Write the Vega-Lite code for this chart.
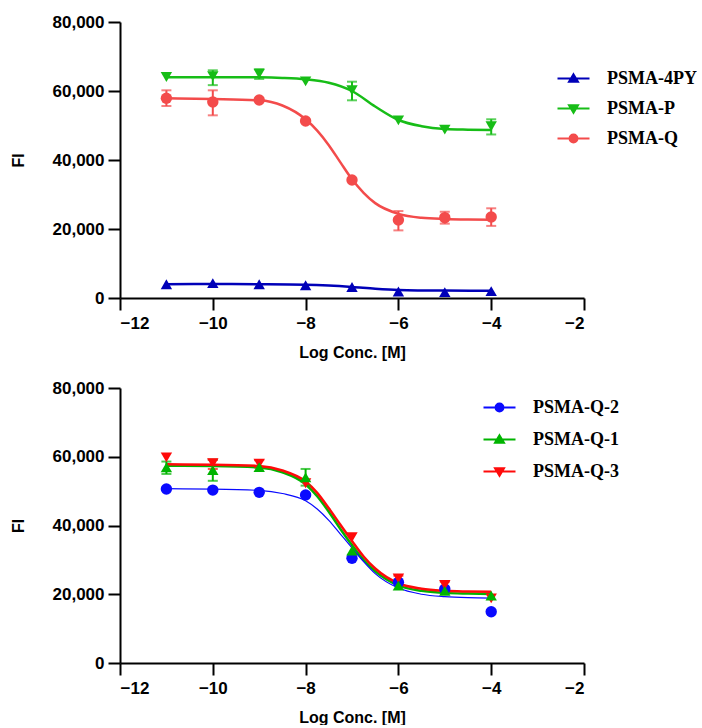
{
  "$schema": "https://vega.github.io/schema/vega-lite/v6.json",
  "padding": {"left": 10, "top": 13, "right": 0, "bottom": 0},
  "spacing": 19,
  "config": {
    "view": {"stroke": null},
    "axis": {
      "grid": false,
      "domainColor": "black", "domainWidth": 2,
      "tickColor": "black", "tickWidth": 2, "tickSize": 12,
      "labelFont": "Liberation Sans", "labelFontWeight": "bold", "labelFontSize": 17, "labelColor": "black",
      "titleFont": "Liberation Sans", "titleFontWeight": "bold", "titleFontSize": 16, "titleColor": "black"
    },
    "axisX": {"labelPadding": 5, "titlePadding": 13},
    "axisY": {"labelPadding": 4, "titlePadding": 26},
    "legend": {
      "labelFont": "Liberation Serif", "labelFontSize": 18, "labelFontWeight": "bold", "labelColor": "black",
      "symbolSize": 1024, "symbolStrokeWidth": 2.2, "symbolOpacity": 1, "padding": 0, "labelOffset": 16
    }
  },
  "datasets": {
    "top_curve": [
      {"series": "PSMA-4PY", "x": -11, "y": 4000}, {"series": "PSMA-4PY", "x": -10, "y": 4050}, {"series": "PSMA-4PY", "x": -9, "y": 4000},
      {"series": "PSMA-4PY", "x": -8, "y": 3850}, {"series": "PSMA-4PY", "x": -7.5, "y": 3600}, {"series": "PSMA-4PY", "x": -7, "y": 3200},
      {"series": "PSMA-4PY", "x": -6.5, "y": 2700}, {"series": "PSMA-4PY", "x": -6, "y": 2350}, {"series": "PSMA-4PY", "x": -5, "y": 2150},
      {"series": "PSMA-4PY", "x": -4, "y": 2100},
      {"series": "PSMA-P", "x": -11, "y": 64000}, {"series": "PSMA-P", "x": -10, "y": 64000}, {"series": "PSMA-P", "x": -9, "y": 63950},
      {"series": "PSMA-P", "x": -8.5, "y": 63800}, {"series": "PSMA-P", "x": -8, "y": 63400}, {"series": "PSMA-P", "x": -7.5, "y": 62400},
      {"series": "PSMA-P", "x": -7, "y": 60000}, {"series": "PSMA-P", "x": -6.5, "y": 55500}, {"series": "PSMA-P", "x": -6, "y": 51600},
      {"series": "PSMA-P", "x": -5.5, "y": 49800}, {"series": "PSMA-P", "x": -5, "y": 49000}, {"series": "PSMA-P", "x": -4.5, "y": 48800},
      {"series": "PSMA-P", "x": -4, "y": 48700},
      {"series": "PSMA-Q", "x": -11, "y": 57900}, {"series": "PSMA-Q", "x": -10, "y": 57700}, {"series": "PSMA-Q", "x": -9, "y": 57300},
      {"series": "PSMA-Q", "x": -8.5, "y": 55800}, {"series": "PSMA-Q", "x": -8, "y": 51800}, {"series": "PSMA-Q", "x": -7.75, "y": 48500},
      {"series": "PSMA-Q", "x": -7.5, "y": 44300}, {"series": "PSMA-Q", "x": -7.25, "y": 39300}, {"series": "PSMA-Q", "x": -7, "y": 34400},
      {"series": "PSMA-Q", "x": -6.75, "y": 30500}, {"series": "PSMA-Q", "x": -6.5, "y": 27500}, {"series": "PSMA-Q", "x": -6, "y": 24400},
      {"series": "PSMA-Q", "x": -5.5, "y": 23250}, {"series": "PSMA-Q", "x": -5, "y": 22900}, {"series": "PSMA-Q", "x": -4.5, "y": 22750},
      {"series": "PSMA-Q", "x": -4, "y": 22700}
    ],
    "top_pts": [
      {"series": "PSMA-4PY", "x": -11, "y": 4000}, {"series": "PSMA-4PY", "x": -10, "y": 4300}, {"series": "PSMA-4PY", "x": -9, "y": 4000},
      {"series": "PSMA-4PY", "x": -8, "y": 3700}, {"series": "PSMA-4PY", "x": -7, "y": 3200}, {"series": "PSMA-4PY", "x": -6, "y": 1900},
      {"series": "PSMA-4PY", "x": -5, "y": 1700}, {"series": "PSMA-4PY", "x": -4, "y": 2000},
      {"series": "PSMA-P", "x": -11, "y": 64050}, {"series": "PSMA-P", "x": -10, "y": 64300}, {"series": "PSMA-P", "x": -9, "y": 65000},
      {"series": "PSMA-P", "x": -8, "y": 62800}, {"series": "PSMA-P", "x": -7, "y": 60200}, {"series": "PSMA-P", "x": -6, "y": 51500},
      {"series": "PSMA-P", "x": -5, "y": 48800}, {"series": "PSMA-P", "x": -4, "y": 49800},
      {"series": "PSMA-Q", "x": -11, "y": 57900}, {"series": "PSMA-Q", "x": -10, "y": 56800}, {"series": "PSMA-Q", "x": -9, "y": 57400},
      {"series": "PSMA-Q", "x": -8, "y": 51300}, {"series": "PSMA-Q", "x": -7, "y": 34200}, {"series": "PSMA-Q", "x": -6, "y": 22600},
      {"series": "PSMA-Q", "x": -5, "y": 23300}, {"series": "PSMA-Q", "x": -4, "y": 23500}
    ],
    "top_err": [
      {"series": "PSMA-P", "x": -10, "lo": 61700, "hi": 66000},
      {"series": "PSMA-P", "x": -9, "lo": 63500, "hi": 66300},
      {"series": "PSMA-P", "x": -7, "lo": 57300, "hi": 62700},
      {"series": "PSMA-P", "x": -4, "lo": 47400, "hi": 51800},
      {"series": "PSMA-Q", "x": -11, "lo": 55650, "hi": 60200},
      {"series": "PSMA-Q", "x": -10, "lo": 52950, "hi": 60200},
      {"series": "PSMA-Q", "x": -6, "lo": 19600, "hi": 25200},
      {"series": "PSMA-Q", "x": -5, "lo": 21550, "hi": 25000},
      {"series": "PSMA-Q", "x": -4, "lo": 20900, "hi": 26000}
    ],
    "bot_curve": [
      {"series": "PSMA-Q-2", "x": -11, "y": 50700}, {"series": "PSMA-Q-2", "x": -10, "y": 50600}, {"series": "PSMA-Q-2", "x": -9, "y": 50200},
      {"series": "PSMA-Q-2", "x": -8.5, "y": 49300}, {"series": "PSMA-Q-2", "x": -8, "y": 47200}, {"series": "PSMA-Q-2", "x": -7.75, "y": 44800},
      {"series": "PSMA-Q-2", "x": -7.5, "y": 41500}, {"series": "PSMA-Q-2", "x": -7.25, "y": 37500}, {"series": "PSMA-Q-2", "x": -7, "y": 33500},
      {"series": "PSMA-Q-2", "x": -6.75, "y": 29500}, {"series": "PSMA-Q-2", "x": -6.5, "y": 26000}, {"series": "PSMA-Q-2", "x": -6, "y": 21800},
      {"series": "PSMA-Q-2", "x": -5.5, "y": 20000}, {"series": "PSMA-Q-2", "x": -5, "y": 19300}, {"series": "PSMA-Q-2", "x": -4.5, "y": 19000},
      {"series": "PSMA-Q-2", "x": -4, "y": 18900},
      {"series": "PSMA-Q-1", "x": -11, "y": 57400}, {"series": "PSMA-Q-1", "x": -10, "y": 57300}, {"series": "PSMA-Q-1", "x": -9, "y": 56900},
      {"series": "PSMA-Q-1", "x": -8.5, "y": 55500}, {"series": "PSMA-Q-1", "x": -8, "y": 52000}, {"series": "PSMA-Q-1", "x": -7.75, "y": 48500},
      {"series": "PSMA-Q-1", "x": -7.5, "y": 44000}, {"series": "PSMA-Q-1", "x": -7.25, "y": 39000}, {"series": "PSMA-Q-1", "x": -7, "y": 34300},
      {"series": "PSMA-Q-1", "x": -6.75, "y": 30000}, {"series": "PSMA-Q-1", "x": -6.5, "y": 26700}, {"series": "PSMA-Q-1", "x": -6, "y": 22600},
      {"series": "PSMA-Q-1", "x": -5.5, "y": 21000}, {"series": "PSMA-Q-1", "x": -5, "y": 20400}, {"series": "PSMA-Q-1", "x": -4.5, "y": 20200},
      {"series": "PSMA-Q-1", "x": -4, "y": 20100},
      {"series": "PSMA-Q-3", "x": -11, "y": 57800}, {"series": "PSMA-Q-3", "x": -10, "y": 57700}, {"series": "PSMA-Q-3", "x": -9, "y": 57300},
      {"series": "PSMA-Q-3", "x": -8.5, "y": 56000}, {"series": "PSMA-Q-3", "x": -8, "y": 52800}, {"series": "PSMA-Q-3", "x": -7.75, "y": 49500},
      {"series": "PSMA-Q-3", "x": -7.5, "y": 45000}, {"series": "PSMA-Q-3", "x": -7.25, "y": 40200}, {"series": "PSMA-Q-3", "x": -7, "y": 35500},
      {"series": "PSMA-Q-3", "x": -6.75, "y": 31000}, {"series": "PSMA-Q-3", "x": -6.5, "y": 27500}, {"series": "PSMA-Q-3", "x": -6, "y": 23200},
      {"series": "PSMA-Q-3", "x": -5.5, "y": 21600}, {"series": "PSMA-Q-3", "x": -5, "y": 21000}, {"series": "PSMA-Q-3", "x": -4.5, "y": 20800},
      {"series": "PSMA-Q-3", "x": -4, "y": 20700}
    ],
    "bot_pts": [
      {"series": "PSMA-Q-2", "x": -11, "y": 50600}, {"series": "PSMA-Q-2", "x": -10, "y": 50300}, {"series": "PSMA-Q-2", "x": -9, "y": 49650},
      {"series": "PSMA-Q-2", "x": -8, "y": 48900}, {"series": "PSMA-Q-2", "x": -7, "y": 30450}, {"series": "PSMA-Q-2", "x": -6, "y": 23500},
      {"series": "PSMA-Q-2", "x": -5, "y": 21500}, {"series": "PSMA-Q-2", "x": -4, "y": 14900},
      {"series": "PSMA-Q-3", "x": -11, "y": 59800}, {"series": "PSMA-Q-3", "x": -10, "y": 58100}, {"series": "PSMA-Q-3", "x": -9, "y": 58000},
      {"series": "PSMA-Q-3", "x": -8, "y": 52300}, {"series": "PSMA-Q-3", "x": -7, "y": 36600}, {"series": "PSMA-Q-3", "x": -6, "y": 24600},
      {"series": "PSMA-Q-3", "x": -5, "y": 22700}, {"series": "PSMA-Q-3", "x": -4, "y": 18800},
      {"series": "PSMA-Q-1", "x": -11, "y": 56900}, {"series": "PSMA-Q-1", "x": -10, "y": 56100}, {"series": "PSMA-Q-1", "x": -9, "y": 57000},
      {"series": "PSMA-Q-1", "x": -8, "y": 54000}, {"series": "PSMA-Q-1", "x": -7, "y": 32700}, {"series": "PSMA-Q-1", "x": -6, "y": 22500},
      {"series": "PSMA-Q-1", "x": -5, "y": 21000}, {"series": "PSMA-Q-1", "x": -4, "y": 19600}
    ],
    "bot_err": [
      {"series": "PSMA-Q-1", "x": -11, "lo": 55000, "hi": 58600},
      {"series": "PSMA-Q-1", "x": -10, "lo": 53000, "hi": 59150},
      {"series": "PSMA-Q-1", "x": -8, "lo": 51600, "hi": 56450},
      {"series": "PSMA-Q-3", "x": -10, "lo": 56450, "hi": 59150},
      {"series": "PSMA-Q-3", "x": -9, "lo": 56900, "hi": 59000},
      {"series": "PSMA-Q-3", "x": -6, "lo": 23470, "hi": 25400},
      {"series": "PSMA-Q-3", "x": -5, "lo": 21530, "hi": 23650}
    ]
  },
  "resolve": {"scale": {"color": "independent", "shape": "independent", "stroke": "independent"}},
  "vconcat": [
    {
      "width": 464, "height": 276,
      "encoding": {
        "x": {"field": "x", "type": "quantitative", "scale": {"domain": [-12, -2], "nice": false, "zero": false},
              "axis": {"values": [-12, -10, -8, -6, -4, -2], "title": "Log Conc. [M]"}},
        "y": {"field": "y", "type": "quantitative", "scale": {"domain": [0, 80000], "nice": false},
              "axis": {"values": [0, 20000, 40000, 60000, 80000], "format": ",.0f", "title": "FI"}},
        "color": {"field": "series", "type": "nominal", "legend": null,
                  "scale": {"domain": ["PSMA-Q", "PSMA-P", "PSMA-4PY"], "range": ["#f34b4b", "#17bd17", "#0000b8"]}}
      },
      "layer": [
        {
          "data": {"name": "top_curve"},
          "mark": {"type": "line", "interpolate": "monotone", "strokeWidth": 2.5}
        },
        {
          "data": {"name": "top_err"},
          "mark": {"type": "errorbar", "ticks": {"size": 10}, "thickness": 2},
          "encoding": {
            "y": {"field": "lo", "type": "quantitative", "scale": {"domain": [0, 80000], "nice": false},
                  "axis": {"values": [0, 20000, 40000, 60000, 80000], "format": ",.0f", "title": "FI"}},
            "y2": {"field": "hi"}
          }
        },
        {
          "data": {"name": "top_pts"},
          "transform": [{"filter": "datum.series === 'PSMA-4PY'"}],
          "mark": {"type": "point", "filled": true, "opacity": 1, "size": 130, "shape": "triangle-up"}
        },
        {
          "data": {"name": "top_pts"},
          "transform": [{"filter": "datum.series === 'PSMA-P'"}],
          "mark": {"type": "point", "filled": true, "opacity": 1, "size": 130, "shape": "triangle-down"}
        },
        {
          "data": {"name": "top_pts"},
          "transform": [{"filter": "datum.series === 'PSMA-Q'"}],
          "mark": {"type": "point", "filled": true, "opacity": 1, "size": 130, "shape": "circle"}
        },
        {
          "data": {"name": "top_pts"},
          "transform": [{"filter": "datum.x > 0"}],
          "mark": {"type": "point", "filled": false, "opacity": 1, "strokeWidth": 2.2},
          "encoding": {
            "color": null,
            "stroke": {"field": "series", "type": "nominal",
                       "scale": {"domain": ["PSMA-4PY", "PSMA-P", "PSMA-Q"], "range": ["#0000b8", "#17bd17", "#f34b4b"]},
                       "legend": {"title": null, "orient": "none", "legendX": 436, "legendY": 39, "rowPadding": 3}},
            "shape": {"field": "series", "type": "nominal",
                      "scale": {"domain": ["PSMA-4PY", "PSMA-P", "PSMA-Q"],
                                "range": [
                                  "M-1,0H1M0,-0.25L0.27,0.2L-0.27,0.2ZM-0.048,-0.17H0.048M-0.096,-0.09H0.096M-0.192,0.07H0.192M-0.24,0.15H0.24",
                                  "M-1,0H1M-0.27,-0.2L0.27,-0.2L0,0.25ZM-0.048,0.17H0.048M-0.096,0.09H0.096M-0.192,-0.07H0.192M-0.24,-0.15H0.24",
                                  "M-1,0H1M0.24,0A0.24,0.24,0,1,1,-0.24,0A0.24,0.24,0,1,1,0.24,0ZM-0.226,-0.08H0.226M-0.226,0.08H0.226M-0.179,-0.16H0.179M-0.179,0.16H0.179"]},
                      "legend": {"title": null, "orient": "none", "legendX": 436, "legendY": 39, "rowPadding": 3}}
          }
        }
      ]
    },
    {
      "width": 464, "height": 275,
      "encoding": {
        "x": {"field": "x", "type": "quantitative", "scale": {"domain": [-12, -2], "nice": false, "zero": false},
              "axis": {"values": [-12, -10, -8, -6, -4, -2], "title": "Log Conc. [M]"}},
        "y": {"field": "y", "type": "quantitative", "scale": {"domain": [0, 80000], "nice": false},
              "axis": {"values": [0, 20000, 40000, 60000, 80000], "format": ",.0f", "title": "FI"}},
        "color": {"field": "series", "type": "nominal", "legend": null,
                  "scale": {"domain": ["PSMA-Q-3", "PSMA-Q-1", "PSMA-Q-2"], "range": ["#ff0a0a", "#00b400", "#0a0aff"]}}
      },
      "layer": [
        {
          "data": {"name": "bot_curve"},
          "transform": [{"filter": "datum.series !== 'PSMA-Q-2'"}],
          "mark": {"type": "line", "interpolate": "monotone", "strokeWidth": 2.5}
        },
        {
          "data": {"name": "bot_curve"},
          "transform": [{"filter": "datum.series === 'PSMA-Q-2'"}],
          "mark": {"type": "line", "interpolate": "monotone", "strokeWidth": 1.2}
        },
        {
          "data": {"name": "bot_err"},
          "mark": {"type": "errorbar", "ticks": {"size": 10}, "thickness": 2},
          "encoding": {
            "y": {"field": "lo", "type": "quantitative", "scale": {"domain": [0, 80000], "nice": false},
                  "axis": {"values": [0, 20000, 40000, 60000, 80000], "format": ",.0f", "title": "FI"}},
            "y2": {"field": "hi"}
          }
        },
        {
          "data": {"name": "bot_pts"},
          "transform": [{"filter": "datum.series === 'PSMA-Q-2'"}],
          "mark": {"type": "point", "filled": true, "opacity": 1, "size": 130, "shape": "circle"}
        },
        {
          "data": {"name": "bot_pts"},
          "transform": [{"filter": "datum.series === 'PSMA-Q-3'"}],
          "mark": {"type": "point", "filled": true, "opacity": 1, "size": 130, "shape": "triangle-down"}
        },
        {
          "data": {"name": "bot_pts"},
          "transform": [{"filter": "datum.series === 'PSMA-Q-1'"}],
          "mark": {"type": "point", "filled": true, "opacity": 1, "size": 130, "shape": "triangle-up"}
        },
        {
          "data": {"name": "bot_pts"},
          "transform": [{"filter": "datum.x > 0"}],
          "mark": {"type": "point", "filled": false, "opacity": 1, "strokeWidth": 2.2},
          "encoding": {
            "color": null,
            "stroke": {"field": "series", "type": "nominal",
                       "scale": {"domain": ["PSMA-Q-2", "PSMA-Q-1", "PSMA-Q-3"], "range": ["#0a0aff", "#00b400", "#ff0a0a"]},
                       "legend": {"title": null, "orient": "none", "legendX": 362, "legendY": 2, "rowPadding": 5}},
            "shape": {"field": "series", "type": "nominal",
                      "scale": {"domain": ["PSMA-Q-2", "PSMA-Q-1", "PSMA-Q-3"],
                                "range": [
                                  "M-1,0H1M0.24,0A0.24,0.24,0,1,1,-0.24,0A0.24,0.24,0,1,1,0.24,0ZM-0.226,-0.08H0.226M-0.226,0.08H0.226M-0.179,-0.16H0.179M-0.179,0.16H0.179",
                                  "M-1,0H1M0,-0.25L0.27,0.2L-0.27,0.2ZM-0.048,-0.17H0.048M-0.096,-0.09H0.096M-0.192,0.07H0.192M-0.24,0.15H0.24",
                                  "M-1,0H1M-0.27,-0.2L0.27,-0.2L0,0.25ZM-0.048,0.17H0.048M-0.096,0.09H0.096M-0.192,-0.07H0.192M-0.24,-0.15H0.24"]},
                      "legend": {"title": null, "orient": "none", "legendX": 362, "legendY": 2, "rowPadding": 5}}
          }
        }
      ]
    }
  ]
}
